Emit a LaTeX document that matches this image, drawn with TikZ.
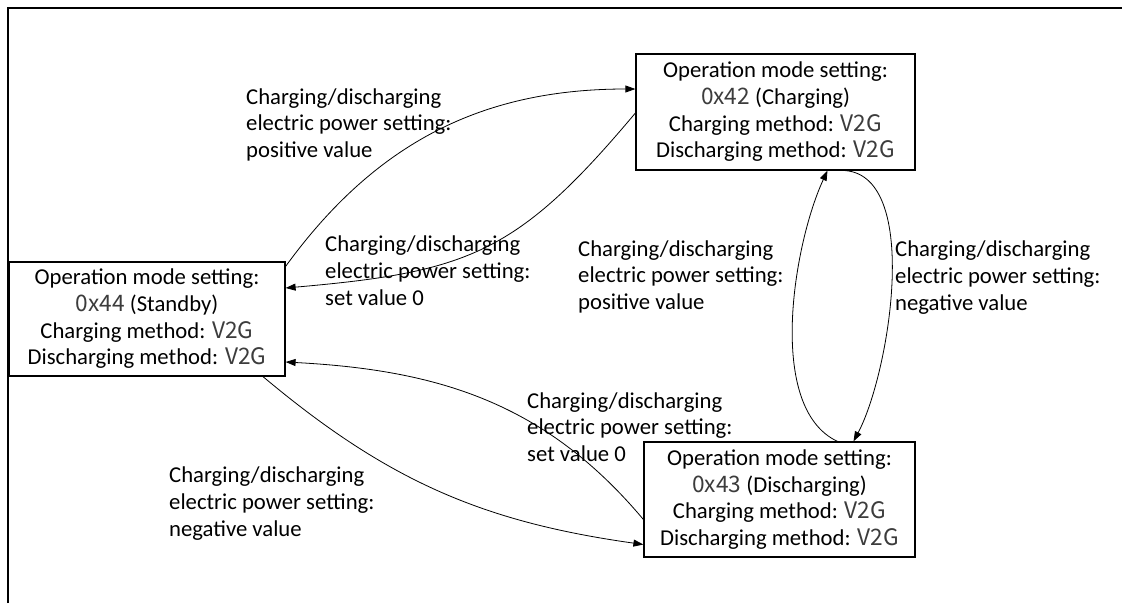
\documentclass[tikz,border=0pt]{standalone}
\usepackage{fontspec}
\setmainfont{Carlito}
\newfontfamily\codefont{Noto Sans CJK JP}
\usetikzlibrary{arrows.meta,positioning}
\definecolor{CodeGray}{RGB}{60,60,60}
\newcommand{\modecode}[1]{{\codefont\color{CodeGray}#1}}
\tikzset{
  modebox/.style={draw=black,line width=1.2pt,inner sep=0pt,align=center,
    font=\fontsize{22.7pt}{26.7pt}\selectfont},
  note/.style={anchor=base west,inner sep=0pt,align=left,
    font=\fontsize{22.7pt}{26.7pt}\selectfont},
  trans/.style={-{Triangle[length=10pt,width=7pt]},line width=0.8pt}
}

\begin{document}
\begin{tikzpicture}[x=1pt,y=1pt]
  \useasboundingbox (0,0) rectangle (1122,-603);
  \draw[line width=2pt] (8,-603) -- (8,-8) -- (1122,-8);

  \node[modebox,minimum width=279pt,minimum height=116pt] (charging) at (775.5,-112)
    {Operation mode setting:\\ \modecode{0x42} (Charging)\\
     Charging method: \modecode{V2G}\\ Discharging method: \modecode{V2G}};
  \node[modebox,minimum width=276pt,minimum height=114pt] (standby) at (147,-319)
    {Operation mode setting:\\ \modecode{0x44} (Standby)\\
     Charging method: \modecode{V2G}\\ Discharging method: \modecode{V2G}};
  \node[modebox,minimum width=271pt,minimum height=115pt] (discharging) at (779.5,-499.5)
    {Operation mode setting:\\ \modecode{0x43} (Discharging)\\
     Charging method: \modecode{V2G}\\ Discharging method: \modecode{V2G}};

  \node[note] (upPos) at (246,-157.4)
    {Charging/discharging\\ electric power setting:\\ positive value};
  \node[note] (downZero) at (325,-305)
    {Charging/discharging\\ electric power setting:\\ set value 0};
  \node[note] (midPos) at (578,-309.4)
    {Charging/discharging\\ electric power setting:\\ positive value};
  \node[note] (midNeg) at (895,-310)
    {Charging/discharging\\ electric power setting:\\ negative value};
  \node[note] (lowZero) at (527,-461.5)
    {Charging/discharging\\ electric power setting:\\ set value 0};
  \node[note] (lowNeg) at (169,-536)
    {Charging/discharging\\ electric power setting:\\ negative value};

  \draw[trans] ([yshift=-5pt]standby.north east) to[out=54,in=180]
    ([yshift=23pt]charging.west);
  \draw[trans] ([yshift=-1pt]charging.west) to[out=-130,in=5,looseness=1.2]
    ([yshift=31pt]standby.east);
  \draw[trans] ([xshift=58pt]discharging.north) to[out=155,in=-115,looseness=0.75]
    ([xshift=52pt]charging.south);
  \draw[trans] ([xshift=70pt]charging.south) to[out=-5,in=62,looseness=0.72]
    ([xshift=74pt]discharging.north);
  \draw[trans] ([xshift=116pt]standby.south) to[out=-40,in=172]
    ([yshift=-45pt]discharging.west);
  \draw[trans] ([yshift=-20pt]discharging.west) to[out=130,in=-3]
    ([yshift=-43pt]standby.east);
\end{tikzpicture}
\end{document}
